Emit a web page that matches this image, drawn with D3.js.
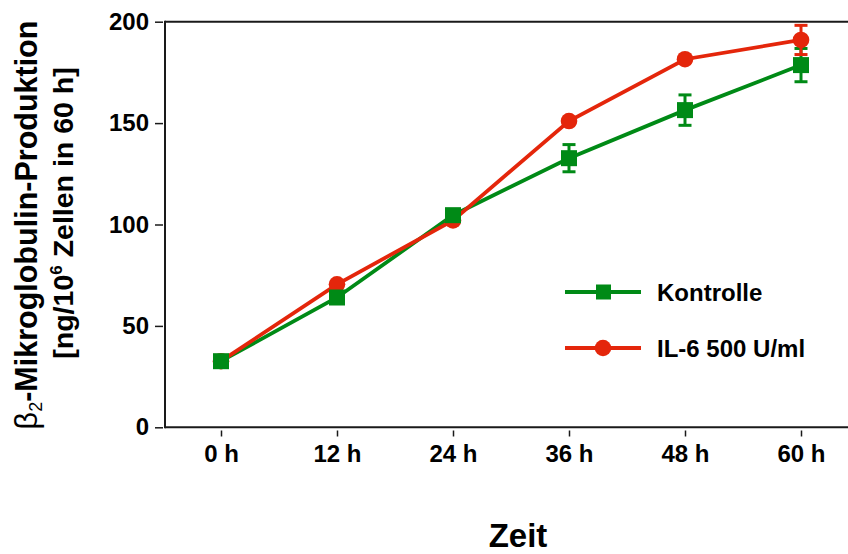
<!DOCTYPE html>
<html>
<head>
<meta charset="utf-8">
<script src="https://cdn.jsdelivr.net/npm/d3@7"></script>
<style>
  body { margin: 0; background: #fff; }
  text { font-family: "Liberation Sans", Arial, Helvetica, sans-serif; }
</style>
</head>
<body>
<script>
// daten
var zeiten = [0, 12, 24, 36, 48, 60];
var zeitLabels = ["0 h", "12 h", "24 h", "36 h", "48 h", "60 h"];
var yTicks = [0, 50, 100, 150, 200];

var kontrolle = [32.6, 64, 104.6, 132.7, 156.4, 178.6];
var kontrolleFehler = [1, 2, 2, 6.7, 7.5, 8.2];
var il6 = [32.6, 70.5, 102, 151, 181.5, 191];
var il6Fehler = [1, 1.5, 1.5, 1.5, 1.5, 7.2];

var gruen = "#008a16";
var rot = "#e4260b";

var breite = 848, hoehe = 554;

var svg = d3.select("body").append("svg")
  .attr("width", breite)
  .attr("height", hoehe);

var x = d3.scaleLinear().domain([0, 60]).range([221, 801]);
var y = d3.scaleLinear().domain([0, 200]).range([427.3, 21.7]);

// rahmen oben + achsen
svg.append("line").attr("x1", 165).attr("x2", breite).attr("y1", y(200)).attr("y2", y(200))
  .attr("stroke", "#1a1a1a").attr("stroke-width", 2);
svg.append("line").attr("x1", 165).attr("x2", breite).attr("y1", y(0)).attr("y2", y(0))
  .attr("stroke", "#1a1a1a").attr("stroke-width", 2);
svg.append("line").attr("x1", 165).attr("x2", 165).attr("y1", y(200) - 1).attr("y2", y(0) + 1)
  .attr("stroke", "#1a1a1a").attr("stroke-width", 2);

// y achse
var yAchse = d3.axisLeft(y).tickValues(yTicks).tickSize(8).tickPadding(6);
var gy = svg.append("g").attr("transform", "translate(163,0)").call(yAchse);
gy.select(".domain").remove();
gy.selectAll(".tick line").attr("stroke", "#1a1a1a").attr("stroke-width", 1.5);
gy.selectAll(".tick text").attr("font-size", 24).attr("font-weight", "bold").attr("fill", "#000");

// x achse
var xAchse = d3.axisBottom(x).tickValues(zeiten).tickSize(6).tickPadding(8)
  .tickFormat(function(d, i){ return zeitLabels[i]; });
var gx = svg.append("g").attr("transform", "translate(0,430.5)").call(xAchse);
gx.select(".domain").remove();
gx.selectAll(".tick line").attr("stroke", "#1a1a1a").attr("stroke-width", 1.5);
gx.selectAll(".tick text").attr("font-size", 24).attr("font-weight", "bold").attr("fill", "#000");

// achsentitel
svg.append("text").attr("x", 518).attr("y", 547).attr("text-anchor", "middle")
  .attr("font-size", 33).attr("font-weight", "bold").text("Zeit");

var yl1 = svg.append("text")
  .attr("transform", "translate(37,225) rotate(-90)")
  .attr("text-anchor", "middle")
  .attr("font-size", 30.5).attr("font-weight", "bold");
yl1.append("tspan").attr("font-weight", "normal").text("β");
yl1.append("tspan").attr("font-size", 18).attr("font-weight", "normal").attr("dy", 5).text("2");
yl1.append("tspan").attr("dy", -5).text("-Mikroglobulin-Produktion");

var yl2 = svg.append("text")
  .attr("transform", "translate(73,213) rotate(-90)")
  .attr("text-anchor", "middle")
  .attr("font-size", 28.5).attr("font-weight", "bold");
yl2.append("tspan").text("[ng/10");
yl2.append("tspan").attr("font-size", 17).attr("dy", -11).text("6");
yl2.append("tspan").attr("dy", 11).text(" Zellen in 60 h]");

// linien
var linie = d3.line().x(function(d, i){ return x(zeiten[i]); }).y(function(d){ return y(d); });

svg.append("path").datum(kontrolle).attr("d", linie)
  .attr("fill", "none").attr("stroke", gruen).attr("stroke-width", 3.8);
svg.append("path").datum(il6).attr("d", linie)
  .attr("fill", "none").attr("stroke", rot).attr("stroke-width", 3.8);

// fehlerbalken
function fehlerbalken(werte, fehler, farbe) {
  var g = svg.append("g").attr("stroke", farbe).attr("stroke-width", 3);
  werte.forEach(function(v, i) {
    var cx = x(zeiten[i]);
    g.append("line").attr("x1", cx).attr("x2", cx).attr("y1", y(v - fehler[i])).attr("y2", y(v + fehler[i]));
    g.append("line").attr("x1", cx - 6.5).attr("x2", cx + 6.5).attr("y1", y(v + fehler[i])).attr("y2", y(v + fehler[i]));
    g.append("line").attr("x1", cx - 6.5).attr("x2", cx + 6.5).attr("y1", y(v - fehler[i])).attr("y2", y(v - fehler[i]));
  });
}
fehlerbalken(kontrolle, kontrolleFehler, gruen);
fehlerbalken(il6, il6Fehler, rot);

// punkte
svg.selectAll("circle.il6").data(il6).enter().append("circle")
  .attr("class", "il6")
  .attr("cx", function(d, i){ return x(zeiten[i]); })
  .attr("cy", function(d){ return y(d); })
  .attr("r", 8.3)
  .attr("fill", rot);

svg.selectAll("rect.kontrolle").data(kontrolle).enter().append("rect")
  .attr("class", "kontrolle")
  .attr("x", function(d, i){ return x(zeiten[i]) - 8; })
  .attr("y", function(d){ return y(d) - 8; })
  .attr("width", 16).attr("height", 16)
  .attr("fill", gruen);

// legende
var legende = [
  {name: "Kontrolle", farbe: gruen, form: "rect", y: 292},
  {name: "IL-6 500 U/ml", farbe: rot, form: "circle", y: 348}
];
legende.forEach(function(l) {
  svg.append("line").attr("x1", 565).attr("x2", 641).attr("y1", l.y).attr("y2", l.y)
    .attr("stroke", l.farbe).attr("stroke-width", 3.8);
  if (l.form == "rect") {
    svg.append("rect").attr("x", 596).attr("y", l.y - 7.5).attr("width", 15).attr("height", 15).attr("fill", l.farbe);
  } else {
    svg.append("circle").attr("cx", 603).attr("cy", l.y).attr("r", 8.3).attr("fill", l.farbe);
  }
  svg.append("text").attr("x", 657).attr("y", l.y + 8.5).attr("font-size", 24).attr("font-weight", "bold").text(l.name);
});
</script>
</body>
</html>
